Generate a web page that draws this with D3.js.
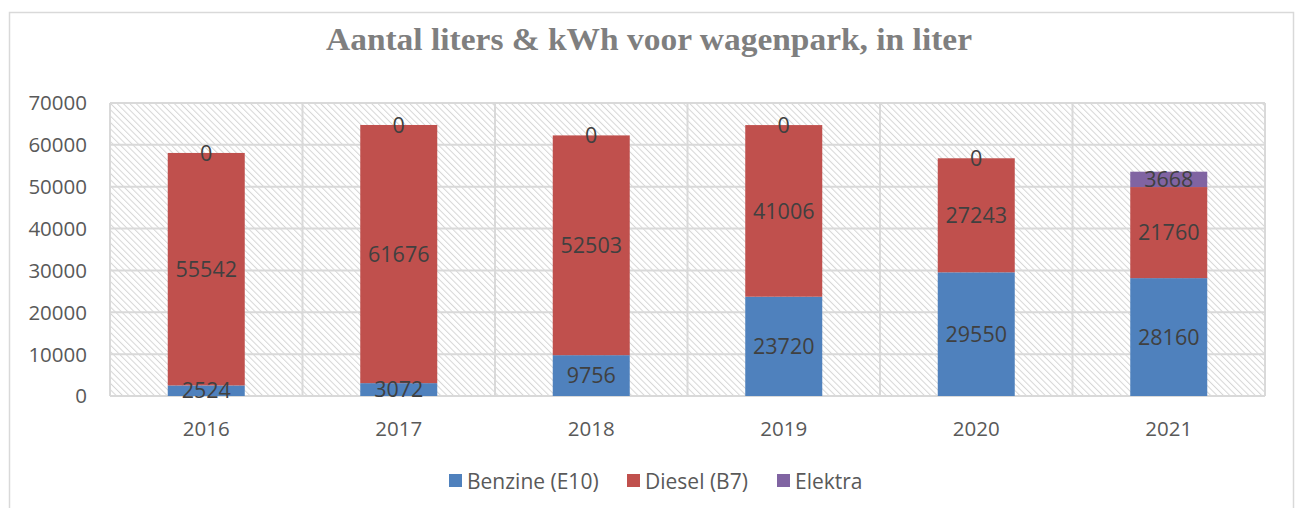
<!DOCTYPE html>
<meta charset="utf-8">
<head>
  <title>Aantal liters & kWh voor wagenpark</title>
  <style>
    body { margin: 0; background: #fff; }
    text { font-family: "Open Sans", "Noto Sans", sans-serif; }
  </style>
</head>
<script src="https://d3js.org/d3.v7.min.js"></script>

<svg id="chart" width="1298" height="508"></svg>

<script>
// data
var years = ["2016", "2017", "2018", "2019", "2020", "2021"]
var benzine = [2524, 3072, 9756, 23720, 29550, 28160]
var diesel = [55542, 61676, 52503, 41006, 27243, 21760]
var elektra = [0, 0, 0, 0, 0, 3668]
var seriesNames = ["Benzine (E10)", "Diesel (B7)", "Elektra"]
var seriesColors = ["#4f81bd", "#c0504d", "#8064a2"]
var yTicks = [0, 10000, 20000, 30000, 40000, 50000, 60000, 70000]

var svg = d3.select("#chart")

var rows = years.map((y, i) => ({year: y, b: benzine[i], d: diesel[i], e: elektra[i]}))
var stack = d3.stack().keys(["b", "d", "e"])(rows)

var plot = {left: 110, right: 1265, top: 103, bottom: 396}

var x = d3.scaleBand()
  .domain(years)
  .range([plot.left, plot.right])
  .paddingInner(0)
  .paddingOuter(0)

var y = d3.scaleLinear()
  .domain([0, 70000])
  .range([plot.bottom, plot.top])

// outer chart border
svg.append("rect")
  .attr("x", 9.5).attr("y", 12.5)
  .attr("width", 1284).attr("height", 520)
  .attr("fill", "#fff")
  .attr("stroke", "#d9d9d9")
  .attr("stroke-width", 1.5)

// hatch pattern for plot background
var defs = svg.append("defs")
var pat = defs.append("pattern")
  .attr("id", "hatch")
  .attr("patternUnits", "userSpaceOnUse")
  .attr("width", 4.5).attr("height", 4.5)
  .attr("patternTransform", "rotate(-45)")
pat.append("rect").attr("width", 4.5).attr("height", 4.5).attr("fill", "#fff")
pat.append("line")
  .attr("x1", 0).attr("y1", 0).attr("x2", 0).attr("y2", 4.5)
  .attr("stroke", "#d6d6d6").attr("stroke-width", 2)

svg.append("rect")
  .attr("x", plot.left).attr("y", plot.top)
  .attr("width", plot.right - plot.left).attr("height", plot.bottom - plot.top)
  .attr("fill", "url(#hatch)")

// gridlines
var grid = svg.append("g")
grid.selectAll(".hgrid").data(yTicks).enter().append("line")
  .attr("x1", plot.left).attr("x2", plot.right)
  .attr("y1", d => y(d)).attr("y2", d => y(d))
  .attr("stroke", "#d9d9d9").attr("stroke-width", 2)

var bounds = years.map(d => x(d)).concat([plot.right])
grid.selectAll(".vgrid").data(bounds).enter().append("line")
  .attr("x1", d => d).attr("x2", d => d)
  .attr("y1", plot.top).attr("y2", plot.bottom)
  .attr("stroke", "#d9d9d9").attr("stroke-width", 2)

// y axis labels
svg.append("g").selectAll("text").data(yTicks).enter().append("text")
  .attr("x", 87).attr("y", d => y(d))
  .attr("dy", "0.36em")
  .attr("text-anchor", "end")
  .attr("fill", "#595959")
  .style("font-size", "20.5px")
  .text(d => d)

// x axis labels
svg.append("g").selectAll("text").data(years).enter().append("text")
  .attr("x", d => x(d) + x.bandwidth() / 2).attr("y", 436)
  .attr("text-anchor", "middle")
  .attr("fill", "#595959")
  .style("font-size", "20.5px")
  .text(d => d)

// bars
var barW = x.bandwidth() * 0.4
var layers = svg.append("g").selectAll("g").data(stack).enter().append("g")
  .attr("fill", (d, i) => seriesColors[i])

layers.selectAll("rect").data(d => d).enter().append("rect")
  .attr("x", d => x(d.data.year) + (x.bandwidth() - barW) / 2)
  .attr("y", d => y(d[1]))
  .attr("width", barW)
  .attr("height", d => y(d[0]) - y(d[1]))

// value labels
stack.forEach(function(layer) {
  svg.append("g").selectAll("text").data(layer).enter().append("text")
    .attr("x", d => x(d.data.year) + x.bandwidth() / 2)
    .attr("y", d => y((d[0] + d[1]) / 2))
    .attr("dy", "0.36em")
    .attr("text-anchor", "middle")
    .attr("fill", "#404040")
    .style("font-size", "21.5px")
    .text(d => d[1] - d[0])
})

// title
svg.append("text")
  .attr("x", 649).attr("y", 50)
  .attr("text-anchor", "middle")
  .attr("fill", "#7f7f7f")
  .style("font-family", "'Liberation Serif', serif")
  .style("font-weight", "bold")
  .style("font-size", "31px")
  .attr("textLength", 646)
  .attr("lengthAdjust", "spacingAndGlyphs")
  .text("Aantal liters & kWh voor wagenpark, in liter")

// legend
var legendX = [449, 627, 777]
var legend = svg.append("g").selectAll("g").data(seriesNames).enter().append("g")
  .attr("transform", (d, i) => "translate(" + legendX[i] + ",474)")
legend.append("rect")
  .attr("width", 13).attr("height", 13)
  .attr("fill", (d, i) => seriesColors[i])
legend.append("text")
  .attr("x", 18).attr("y", 7)
  .attr("dy", "0.36em")
  .attr("fill", "#595959")
  .style("font-size", "21px")
  .text(d => d)
</script>
